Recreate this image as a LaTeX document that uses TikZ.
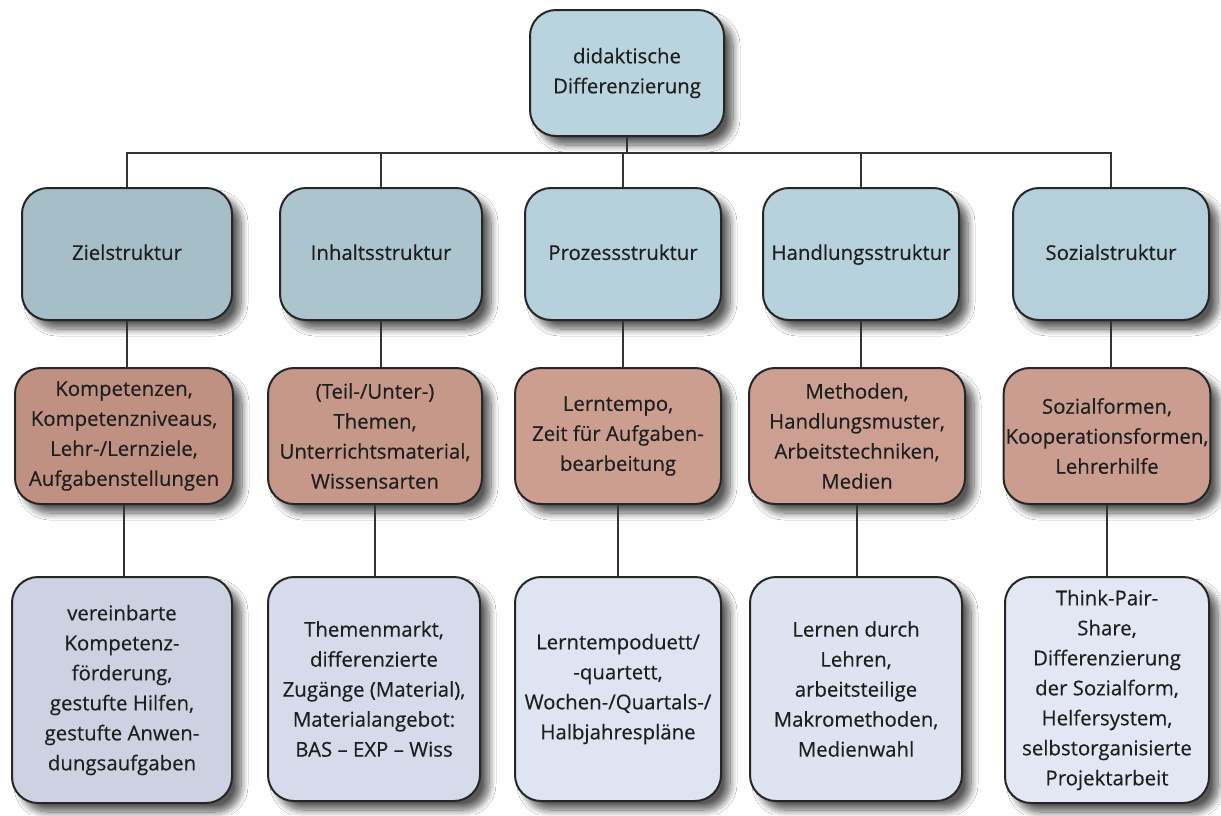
\documentclass[tikz,border=0pt]{standalone}
\usepackage{fontspec}
\setmainfont{Open Sans}
\newfontfamily\boxfont[FakeBold=0.35]{Open Sans}
\usetikzlibrary{shadows.blur}
\definecolor{txt}{HTML}{1E1E1E}
\definecolor{topc}{HTML}{B9D4DE}
\definecolor{blA}{HTML}{A5BEC8}
\definecolor{blB}{HTML}{ABC4CE}
\definecolor{blC}{HTML}{B6D1DB}
\definecolor{blD}{HTML}{B7D2DC}
\definecolor{blE}{HTML}{B5D0DA}
\definecolor{brA}{HTML}{C09183}
\definecolor{brB}{HTML}{C69889}
\definecolor{brC}{HTML}{CC9E90}
\definecolor{brD}{HTML}{CD9F92}
\definecolor{brE}{HTML}{CB9D90}
\definecolor{grA}{HTML}{CCD2E2}
\definecolor{grB}{HTML}{D5DBEA}
\definecolor{grC}{HTML}{DEE4F1}
\definecolor{grD}{HTML}{DDE3F0}
\definecolor{grE}{HTML}{E2E7F3}
\begin{document}
\begin{tikzpicture}[x=0.5pt,y=-0.5pt,
  box/.style={draw=black!85, line width=1pt, rounded corners=13pt, align=center,
    text=txt, inner sep=1pt, font=\boxfont\fontsize{10.2}{15}\selectfont,
    blur shadow={shadow xshift=4.5pt, shadow yshift=-4.5pt, shadow blur steps=10,
      shadow blur radius=3.5pt, shadow opacity=65}},
  one/.style={text height=1.4ex, text depth=0.3ex},
  conn/.style={draw=black!80, line width=0.7pt}]
\useasboundingbox (0,0) rectangle (1221,815);
\fill[white] (0,0) rectangle (1221,815);
% top
\node[box, fill=topc, minimum width=97pt, minimum height=63pt] (top) at (627,73) {didaktische\\Differenzierung};
% row 2
\node[box, one, fill=blA, minimum width=105pt, minimum height=66pt] (za) at (127,254) {Zielstruktur};
\node[box, one, fill=blB, minimum width=101pt, minimum height=66pt] (ia) at (381,254) {Inhaltsstruktur};
\node[box, one, fill=blC, minimum width=98pt, minimum height=66pt] (pa) at (623,254) {Prozessstruktur};
\node[box, one, fill=blD, minimum width=98pt, minimum height=66pt] (ha) at (861,254) {Handlungsstruktur};
\node[box, one, fill=blE, minimum width=98pt, minimum height=66pt] (sa) at (1111,254) {Sozialstruktur};
% row 3
\node[box, fill=brA, minimum width=109pt, minimum height=68pt] (zb) at (124,436) {Kompetenzen,\\Kompetenzniveaus,\\Lehr-/Lernziele,\\Aufgabenstellungen};
\node[box, fill=brB, minimum width=107pt, minimum height=68pt] (ib) at (375,436) {(Teil-/Unter-)\\Themen,\\Unterrichtsmaterial,\\Wissensarten};
\node[box, fill=brC, minimum width=103pt, minimum height=68pt] (pb) at (618,436) {Lerntempo,\\Zeit für Aufgaben-\\bearbeitung};
\node[box, fill=brD, minimum width=108pt, minimum height=68pt] (hb) at (857,436) {Methoden,\\Handlungsmuster,\\Arbeitstechniken,\\Medien};
\node[box, fill=brE, minimum width=101pt, minimum height=68pt] (sb) at (1107,436) {Sozialformen,\\Kooperationsformen,\\Lehrerhilfe};
% row 4
\node[box, fill=grA, minimum width=110pt, minimum height=113pt] (zc) at (122,690) {vereinbarte\\Kompetenz-\\förderung,\\gestufte Hilfen,\\gestufte Anwen-\\dungsaufgaben};
\node[box, fill=grB, minimum width=106pt, minimum height=112pt] (ic) at (374,689) {Themenmarkt,\\differenzierte\\Zugänge (Material),\\Materialangebot:\\BAS – EXP – Wiss};
\node[box, fill=grC, minimum width=103pt, minimum height=112pt] (pc) at (618,689) {Lerntempoduett/\\-quartett,\\Wochen-/Quartals-/\\Halbjahrespläne};
\node[box, fill=grD, minimum width=106pt, minimum height=112pt] (hc) at (856,689) {Lernen durch\\Lehren,\\arbeitsteilige\\Makromethoden,\\Medienwahl};
\node[box, fill=grE, minimum width=102pt, minimum height=113pt] (sc) at (1107,690) {Think-Pair-\\Share,\\Differenzierung\\der Sozialform,\\Helfersystem,\\selbstorganisierte\\Projektarbeit};
% bus
\coordinate (bus) at (627,153);
\draw[conn] (top.south) -- (bus);
\foreach \n in {za,ia,pa,ha,sa} {\draw[conn] (\n.north) |- (bus);}
% verticals
\foreach \a/\b in {za/zb,ia/ib,pa/pb,ha/hb,sa/sb,zb/zc,ib/ic,pb/pc,hb/hc,sb/sc} {
  \draw[conn] (\a.south) -- (\a.south |- \b.north);
}
\end{tikzpicture}
\end{document}
